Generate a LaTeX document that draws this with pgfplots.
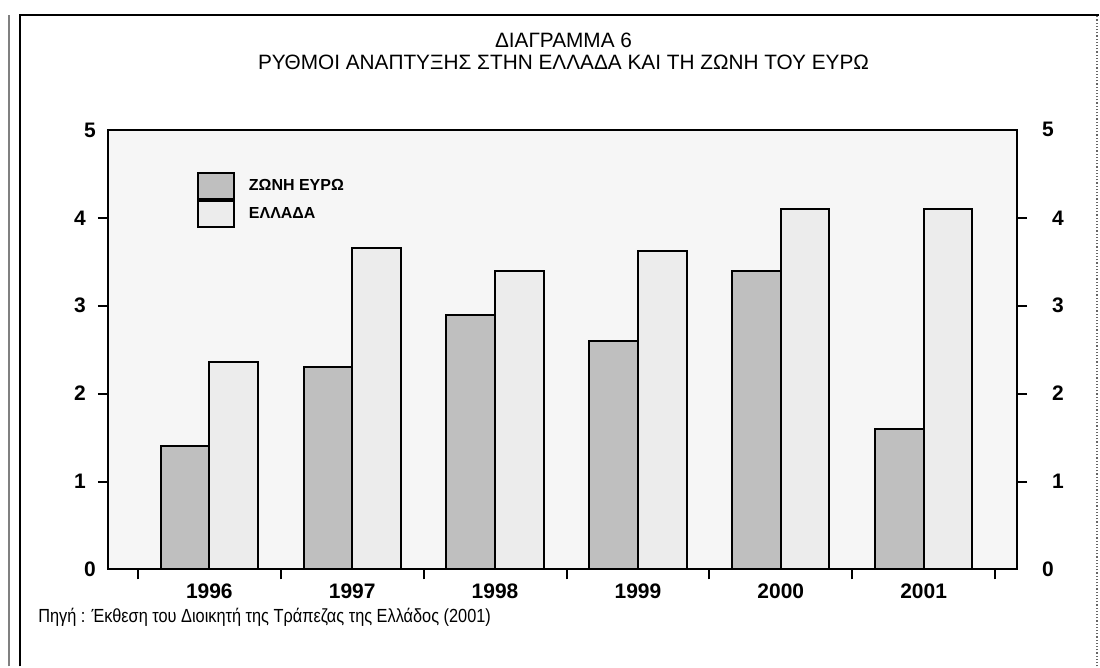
\documentclass[border=0pt]{standalone}
\usepackage{fontspec}
\setmainfont{Liberation Sans}
\usepackage{pgfplots}
\pgfplotsset{compat=1.18}

\pgfplotstableread{
x euro greece
0 1.4 2.36
1 2.3 3.66
2 2.9 3.4
3 2.6 3.62
4 3.4 4.1
5 1.6 4.1
}\growth

\begin{document}
\begin{tikzpicture}
% page frame: 1100x667 px, 0.5pt per px
\path (0pt,0pt) rectangle (550pt,333.5pt);
\draw[gray,line width=1pt] (4.5pt,0pt) -- (4.5pt,326pt);
\draw[black,line width=1pt] (10pt,0pt) -- (10pt,326pt) -- (550pt,326pt);
\draw[black!60,densely dotted,line width=0.6pt] (549pt,0pt) -- (549pt,326pt);

\node[font=\fontsize{10.4}{12}\selectfont] at (282pt,313.5pt) {ΔΙΑΓΡΑΜΜΑ 6};
\node[font=\fontsize{10.4}{12}\selectfont] at (282pt,302.5pt) {ΡΥΘΜΟΙ ΑΝΑΠΤΥΞΗΣ ΣΤΗΝ ΕΛΛΑΔΑ ΚΑΙ ΤΗ ΖΩΝΗ ΤΟΥ ΕΥΡΩ};
\node[font=\fontsize{9.5}{11}\selectfont,anchor=west,inner sep=0pt] at (19pt,24.75pt)
  {\scalebox{0.86}[1]{Πηγή : Έκθεση του Διοικητή της Τράπεζας της Ελλάδος (2001)}};

\begin{axis}[at={(54pt,48.5pt)}, anchor=south west, scale only axis,
  width=455pt, height=220pt,
  xmin=-0.71, xmax=5.654, ymin=0, ymax=5,
  ybar=0pt, bar width=0.34,
  axis background/.style={fill=gray!7},
  axis line style={line width=1pt},
  tick align=outside, xtick pos=bottom, ytick pos=left,
  tick style={line width=1pt, black},
  major tick length=5pt,
  xtick={-0.5,0.5,...,5.5}, xticklabels={},
  extra x ticks={0,...,5}, extra x tick labels={1996,1997,1998,1999,2000,2001},
  extra x tick style={major tick length=0pt},
  ytick={1,2,3,4}, extra y ticks={0,5}, extra y tick style={major tick length=0pt},
  /pgf/number format/assume math mode=true,
  ticklabel style={font=\fontsize{10.5}{12}\selectfont\bfseries},
  yticklabel style={xshift=-2.5pt},
  xticklabel style={yshift=-3.5pt},
  legend style={at={(0.098,0.905)}, anchor=north west, draw=none, fill=none,
    inner xsep=0pt, inner ysep=0pt, row sep=0pt,
    font=\fontsize{8}{9}\selectfont\bfseries, cells={anchor=west},
    /tikz/every odd column/.append style={column sep=5pt}},
  legend image code/.code={\draw[#1,line width=0.8pt] (0pt,-6.6pt) rectangle (18pt,6.6pt);},
]
\addplot[draw=black, line width=1pt, fill=gray!50] table[x=x,y=euro] {\growth};
\addplot[draw=black, line width=1pt, fill=gray!15] table[x=x,y=greece] {\growth};
\legend{ΖΩΝΗ ΕΥΡΩ, ΕΛΛΑΔΑ}
\end{axis}

\begin{axis}[at={(54pt,48.5pt)}, anchor=south west, scale only axis,
  width=455pt, height=220pt,
  xmin=-0.71, xmax=5.654, ymin=0, ymax=5,
  axis x line=none, axis y line*=right,
  axis line style={line width=1pt},
  tick align=outside, major tick length=5pt,
  tick style={line width=1pt, black},
  ytick={1,2,3,4}, extra y ticks={0,5}, extra y tick style={major tick length=0pt},
  /pgf/number format/assume math mode=true,
  ticklabel style={font=\fontsize{10.5}{12}\selectfont\bfseries},
  yticklabel style={xshift=9pt},
]
\addplot[draw=none] coordinates {(0,0)};
\end{axis}
\end{tikzpicture}
\end{document}
